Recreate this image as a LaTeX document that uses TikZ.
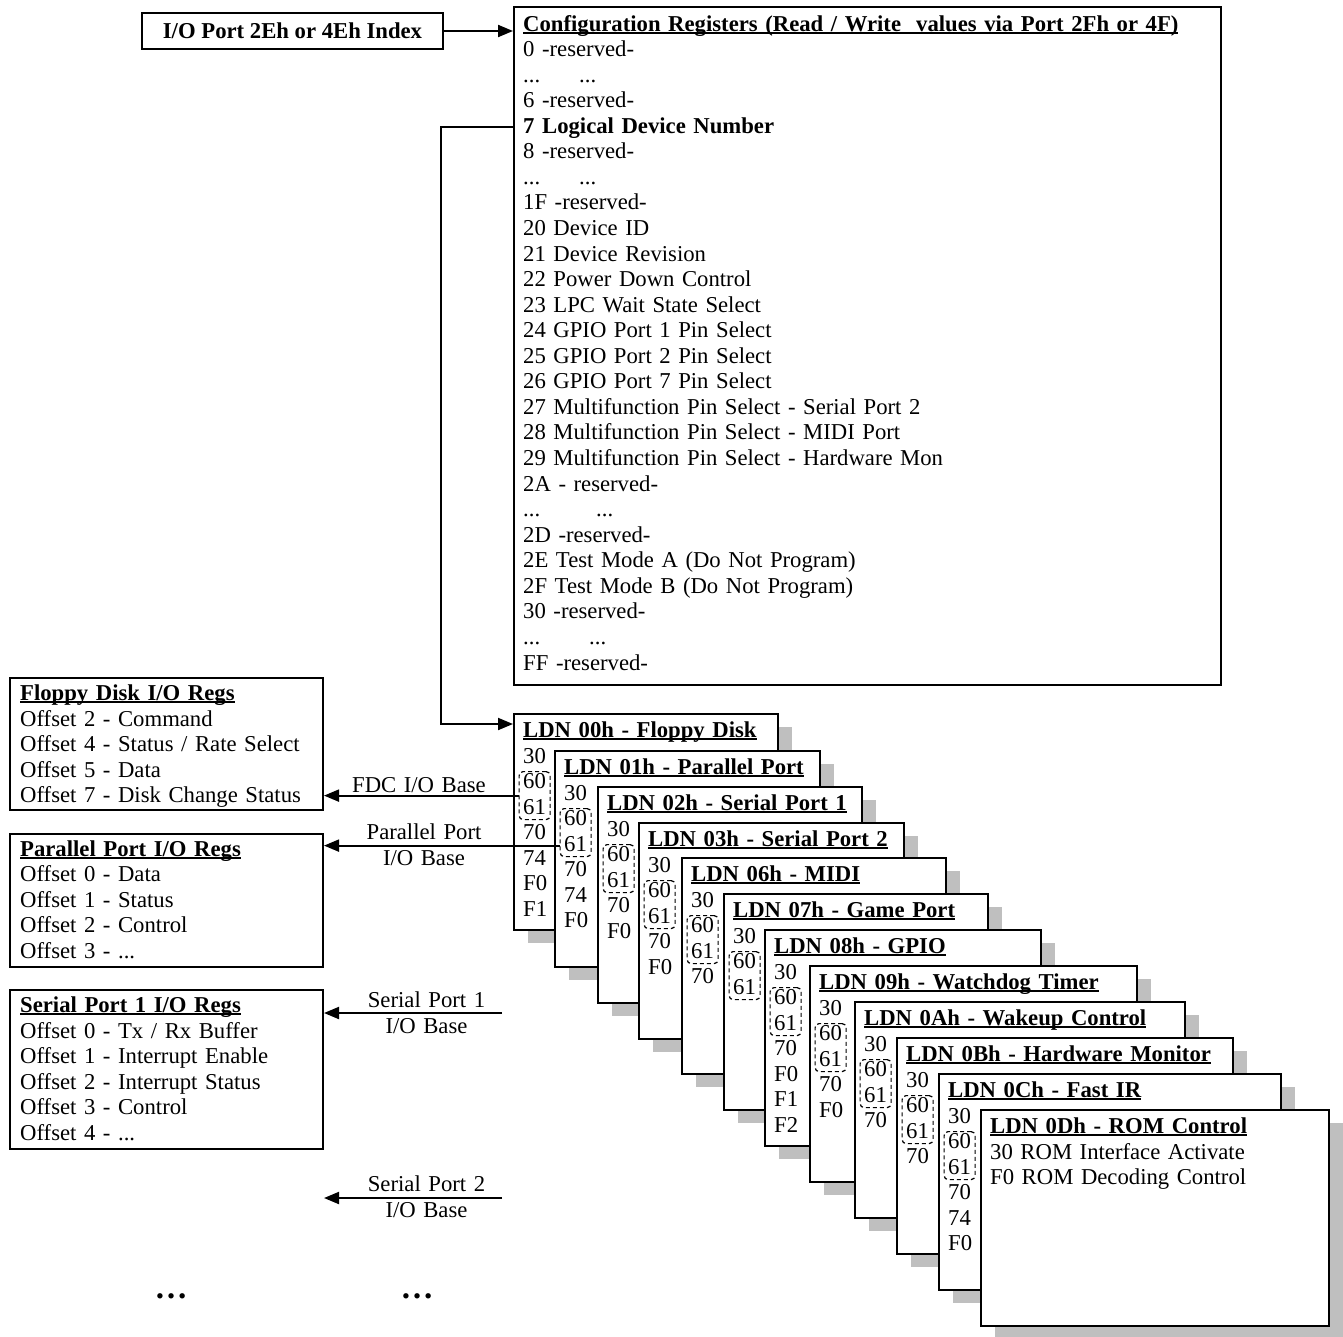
\documentclass[tikz,border=0pt]{standalone}
\usepackage{fontspec}
\setmainfont{Liberation Serif}
\usepackage{tikz}
\usetikzlibrary{arrows.meta,positioning}

\tikzset{
  regbox/.style={draw, line width=2pt, fill=white, anchor=north west, inner sep=0pt},
  ldn/.style={regbox, minimum height=216pt},
  selbox/.style={draw, line width=1.2pt, dash pattern=on 4pt off 3pt, rounded corners=4pt,
    anchor=north west, minimum width=31pt, minimum height=48pt, inner sep=0pt},
  shadowfill/.style={fill=black!25},
  txt/.style={anchor=base west, inner sep=0pt, text width=700pt, align=left},
  lbl/.style={anchor=base, inner sep=0pt, text width=160pt, align=center},
  arr/.style={line width=2pt, -{Triangle[length=15pt,width=12pt]}},
}

% bold heading with a low underline
\newcommand{\regtitle}[1]{\setbox0=\hbox{\bfseries #1}\rlap{\rule[-2.7pt]{\wd0}{2pt}}\box0}

% one logical device: shadow, box, text, dashed 60/61 frame
\newcommand{\ldnbox}[6]{%
  \fill[shadowfill] (#2+15,#3+14) rectangle ++(#4,216);
  \node[ldn, minimum width=#4pt] (#1) at (#2,#3) {};
  \node[txt] (#1t) at (#2+10,#3+24.5) {\regtitle{#5}\\#6};
  \node[selbox] (#1s) at (#2+5.5,#3+58) {};
}

\begin{document}
\begin{tikzpicture}[x=1pt, y=-1pt, font=\fontsize{22.7}{25.56}\selectfont]
\useasboundingbox (0,0) rectangle (1343,1336);

% Index port and configuration registers
\node[regbox, minimum width=301pt, minimum height=36pt, font=\fontsize{22.7}{25.56}\selectfont\bfseries] (idx) at (141,12) {I/O Port 2Eh or 4Eh Index};
\node[regbox, minimum width=707pt, minimum height=678pt] (cfg) at (513,6) {};
\node[txt] (cfgt) at (523,31) {\regtitle{Configuration Registers (Read / Write~ values via Port 2Fh or 4F)}\\
  0 -reserved-\\
  \makebox[56pt][l]{...}...\\
  6 -reserved-\\
  \textbf{7 Logical Device Number}\\
  8 -reserved-\\
  \makebox[56pt][l]{...}...\\
  1F -reserved-\\
  20 Device ID\\
  21 Device Revision\\
  22 Power Down Control\\
  23 LPC Wait State Select\\
  24 GPIO Port 1 Pin Select\\
  25 GPIO Port 2 Pin Select\\
  26 GPIO Port 7 Pin Select\\
  27 Multifunction Pin Select - Serial Port 2\\
  28 Multifunction Pin Select - MIDI Port\\
  29 Multifunction Pin Select - Hardware Mon\\
  2A - reserved-\\
  \makebox[73pt][l]{...}...\\
  2D -reserved-\\
  2E Test Mode A (Do Not Program)\\
  2F Test Mode B (Do Not Program)\\
  30 -reserved-\\
  \makebox[66pt][l]{...}...\\
  FF -reserved-};
\coordinate (ldnsel) at (513,127);

% I/O register blocks
\node[regbox, minimum width=313pt, minimum height=132pt] (fdc) at (9,677) {};
\node[txt] (fdct) at (20,700.5) {\regtitle{Floppy Disk I/O Regs}\\Offset 2 - Command\\Offset 4 - Status / Rate Select\\Offset 5 - Data\\Offset 7 - Disk Change Status};
\node[regbox, minimum width=313pt, minimum height=133pt] (ppr) at (9,833) {};
\node[txt] (pprt) at (20,856) {\regtitle{Parallel Port I/O Regs}\\Offset 0 - Data\\Offset 1 - Status\\Offset 2 - Control\\Offset 3 - ...};
\node[regbox, minimum width=313pt, minimum height=159pt] (sp1r) at (9,989) {};
\node[txt] (sp1t) at (20,1012.5) {\regtitle{Serial Port 1 I/O Regs}\\Offset 0 - Tx / Rx Buffer\\Offset 1 - Interrupt Enable\\Offset 2 - Interrupt Status\\Offset 3 - Control\\Offset 4 - ...};

% Logical device stack
\ldnbox{ldn0}{513}{713}{264}{LDN 00h - Floppy Disk}{30\\60\\61\\70\\74\\F0\\F1}
\ldnbox{ldn1}{554}{750}{265}{LDN 01h - Parallel Port}{30\\60\\61\\70\\74\\F0}
\ldnbox{ldn2}{597}{786}{264}{LDN 02h - Serial Port 1}{30\\60\\61\\70\\F0}
\ldnbox{ldn3}{638}{822}{265}{LDN 03h - Serial Port 2}{30\\60\\61\\70\\F0}
\ldnbox{ldn4}{681}{857}{264}{LDN 06h - MIDI}{30\\60\\61\\70}
\ldnbox{ldn5}{723}{893}{264}{LDN 07h - Game Port}{30\\60\\61}
\ldnbox{ldn6}{764}{929}{276}{LDN 08h - GPIO}{30\\60\\61\\70\\F0\\F1\\F2}
\ldnbox{ldn7}{809}{965}{327}{LDN 09h - Watchdog Timer}{30\\60\\61\\70\\F0}
\ldnbox{ldn8}{854}{1001}{330}{LDN 0Ah - Wakeup Control}{30\\60\\61\\70}
\ldnbox{ldn9}{896}{1037}{336}{LDN 0Bh - Hardware Monitor}{30\\60\\61\\70}
\ldnbox{ldn10}{938}{1073}{342}{LDN 0Ch - Fast IR}{30\\60\\61\\70\\74\\F0}
\fill[shadowfill] (995,1123) rectangle ++(348,216);
\node[ldn, minimum width=348pt] (ldn11) at (980,1109) {};
\node[txt] (ldn11t) at (990,1133.5) {\regtitle{LDN 0Dh - ROM Control}\\30 ROM Interface Activate\\F0 ROM Decoding Control};

% Connectors
\draw[arr] (idx.east) -- (idx.east -| cfg.west);
\draw[arr] (ldnsel) -- ++(-72,0) |- ([yshift=-11pt]ldn0.north west);
\draw[arr] (ldn0s.west) -- (ldn0s.west -| fdc.east);
\draw[arr] ([yshift=-13pt]ldn1s.west) -- ([yshift=-13pt]ldn1s.west -| ppr.east);
\coordinate (sp1in) at (502,1013);
\coordinate (sp2in) at (502,1198);
\draw[arr] (sp1in) -- (sp1in -| sp1r.east);
\draw[arr] (sp2in) -- (sp2in -| sp1r.east);

% Connector labels
\node[lbl] (fdcl) at (419,792) {FDC I/O Base};
\node[lbl] (ppl) at (424,839.5) {Parallel Port\\I/O Base};
\node[lbl] (sp1l) at (426.5,1007.5) {Serial Port 1\\I/O Base};
\node[lbl] (sp2l) at (426.5,1191.5) {Serial Port 2\\I/O Base};

% More devices
\node[font=\fontsize{33}{33}\selectfont\bfseries] (morel) at (171,1296) {…};
\node[font=\fontsize{33}{33}\selectfont\bfseries] (morer) at (417,1296) {…};
\end{tikzpicture}
\end{document}
